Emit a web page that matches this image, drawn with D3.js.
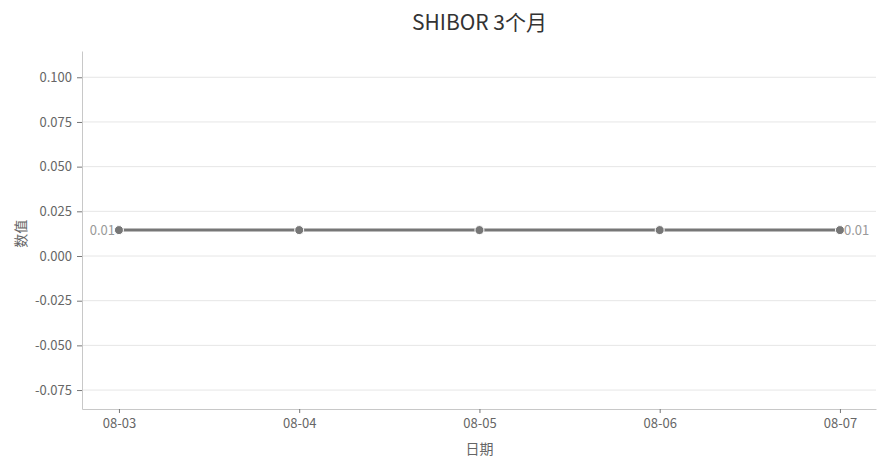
<!DOCTYPE html>
<html>
<head>
<meta charset="utf-8">
<script src="https://cdn.jsdelivr.net/npm/d3@7"></script>
<style>
  body { margin: 0; background: #fff; }
  svg text { font-family: "Noto Sans CJK SC", "Noto Sans", sans-serif; }
</style>
</head>
<body>
<svg id="chart"></svg>
<script>
const dates = ["08-03", "08-04", "08-05", "08-06", "08-07"]
const values = [0.0145, 0.0145, 0.0145, 0.0145, 0.0145]
const yTicks = [-0.075, -0.05, -0.025, 0, 0.025, 0.05, 0.075, 0.1]
const chartTitle = "SHIBOR 3个月"

const width = 888
const height = 468
const marginTop = 51
const marginRight = 12
const marginBottom = 59
const marginLeft = 82

const svg = d3.select("#chart").attr("width", width).attr("height", height)

const x = d3.scaleLinear()
  .domain([-0.205, dates.length - 1 + 0.2])
  .range([marginLeft, width - marginRight])

const y = d3.scaleLinear()
  .domain([-0.0856, 0.1147])
  .range([height - marginBottom, marginTop])

// hyphen instead of unicode minus, like the reference
const fmt3 = d => d3.format(".3f")(d).replace("−", "-")

// grid
svg.append("g")
  .selectAll("line")
  .data(yTicks)
  .join("line")
  .attr("x1", marginLeft)
  .attr("x2", width - marginRight)
  .attr("y1", d => y(d))
  .attr("y2", d => y(d))
  .attr("stroke", "#e6e6e6")
  .attr("stroke-width", 1)

// y axis
const yAxis = svg.append("g")
  .attr("transform", `translate(${marginLeft},0)`)
  .call(d3.axisLeft(y).tickValues(yTicks).tickFormat(fmt3).tickSize(5).tickSizeOuter(0).tickPadding(5))
yAxis.select(".domain").attr("stroke", "#c8c8c8")
yAxis.selectAll(".tick line").attr("stroke", "#777")
yAxis.selectAll(".tick text").attr("fill", "#666").attr("font-size", 13)

// x axis
const xAxis = svg.append("g")
  .attr("transform", `translate(0,${height - marginBottom})`)
  .call(d3.axisBottom(x).tickValues(d3.range(dates.length)).tickFormat(i => dates[i]).tickSize(4).tickSizeOuter(0).tickPadding(6))
xAxis.select(".domain").attr("stroke", "#c8c8c8")
xAxis.selectAll(".tick line").attr("stroke", "#777")
xAxis.selectAll(".tick text").attr("fill", "#666").attr("font-size", 13)

// line
const line = d3.line()
  .x((d, i) => x(i))
  .y(d => y(d))

svg.append("path")
  .datum(values)
  .attr("fill", "none")
  .attr("stroke", "#777")
  .attr("stroke-width", 3)
  .attr("d", line)

svg.append("g")
  .selectAll("circle")
  .data(values)
  .join("circle")
  .attr("cx", (d, i) => x(i))
  .attr("cy", d => y(d))
  .attr("r", 4.5)
  .attr("fill", "#777")
  .attr("stroke", "#fff")
  .attr("stroke-width", 1)

// end labels
const last = values.length - 1
svg.append("text")
  .attr("x", x(0) - 4)
  .attr("y", y(values[0]))
  .attr("dy", "0.35em")
  .attr("text-anchor", "end")
  .attr("fill", "#999")
  .attr("font-size", 13)
  .text(d3.format(".2f")(values[0]))
svg.append("text")
  .attr("x", x(last) + 4)
  .attr("y", y(values[last]))
  .attr("dy", "0.35em")
  .attr("text-anchor", "start")
  .attr("fill", "#999")
  .attr("font-size", 13)
  .text(d3.format(".2f")(values[last]))

// title + axis labels
svg.append("text")
  .attr("x", x(2))
  .attr("y", 30)
  .attr("text-anchor", "middle")
  .attr("fill", "#333")
  .attr("font-size", 21)
  .text(chartTitle)

svg.append("text")
  .attr("x", x(2))
  .attr("y", 454)
  .attr("text-anchor", "middle")
  .attr("fill", "#666")
  .attr("font-size", 14)
  .text("日期")

svg.append("text")
  .attr("transform", `translate(26,${y(0.0125)}) rotate(-90)`)
  .attr("text-anchor", "middle")
  .attr("fill", "#666")
  .attr("font-size", 14)
  .text("数值")
</script>
</body>
</html>
